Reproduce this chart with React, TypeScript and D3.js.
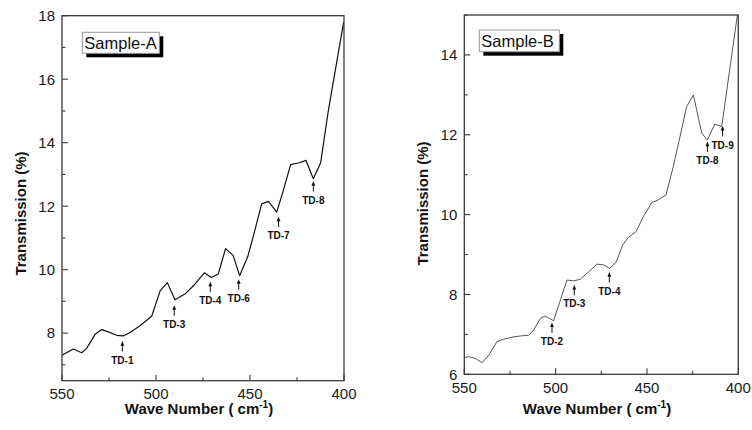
import React from "react";
import * as d3 from "d3";

// ---------- data ----------
const waveA = [550, 544, 539.5, 536.9, 532.4, 528.9, 525.4, 520.9, 517.4, 513.8, 508.5, 502.3, 497.8, 494, 489.9, 484.6, 479.3, 474.3, 470.6, 466.9, 463, 459, 455.5, 451.2, 447.8, 443.8, 440.2, 435.8, 432.3, 428.4, 424.3, 420.2, 416.3, 412.4, 408.3, 400.2];
const transA = [7.3, 7.5, 7.38, 7.52, 7.96, 8.11, 8.04, 7.93, 7.91, 8.02, 8.23, 8.53, 9.33, 9.59, 9.05, 9.23, 9.54, 9.9, 9.75, 9.86, 10.66, 10.45, 9.81, 10.41, 11.15, 12.07, 12.15, 11.81, 12.49, 13.31, 13.36, 13.44, 12.86, 13.37, 15.02, 17.8];

const waveB = [550, 547.6, 544, 540.3, 536.6, 532.1, 528.4, 523.9, 519.3, 514.7, 512, 508.4, 505.7, 503.5, 501.1, 497.4, 493.8, 490.1, 486.5, 481.9, 477.4, 473.7, 470.3, 466.8, 463.3, 460.2, 456, 452.2, 447.4, 443.8, 439.6, 435.6, 431.9, 428.3, 424.6, 420, 417, 412.8, 409.1, 400.5];
const transB = [6.42, 6.44, 6.4, 6.29, 6.48, 6.82, 6.88, 6.93, 6.96, 6.98, 7.11, 7.4, 7.46, 7.4, 7.34, 7.86, 8.36, 8.34, 8.38, 8.57, 8.76, 8.74, 8.65, 8.82, 9.24, 9.43, 9.57, 9.93, 10.3, 10.37, 10.49, 11.2, 11.95, 12.7, 13.0, 12.04, 11.87, 12.27, 12.2, 15.0];

const xTicks = [550, 500, 450, 400];
const xMinor = [525, 475, 425];
const yTicksA = [8, 10, 12, 14, 16, 18];
const yMinorA = [7, 9, 11, 13, 15, 17];
const yTicksB = [6, 8, 10, 12, 14];
const yMinorB = [7, 9, 11, 13, 15];

const notesALabels = ["TD-1", "TD-3", "TD-4", "TD-6", "TD-7", "TD-8"];
const notesAWave = [517.9, 490.3, 471.1, 456, 434.8, 416.3];
const notesATip = [7.75, 8.88, 9.62, 9.7, 11.67, 12.79];

const notesBLabels = ["TD-2", "TD-3", "TD-4", "TD-8", "TD-9"];
const notesBWave = [502, 489.8, 470.6, 416.9, 408.6];
const notesBTip = [7.3, 8.24, 8.56, 11.83, 12.22];

const FONT = "'Liberation Sans', Arial, Helvetica, sans-serif";

type PanelProps = {
  id: string;
  left: number; right: number; top: number; bottom: number;
  yDomain: [number, number];
  wave: number[]; trans: number[];
  yTicks: number[]; yMinor: number[];
  labels: string[]; noteWave: number[]; noteTip: number[];
  lineColor: string; lineWidth: number;
  sample: string; box: { x: number; y: number; w: number; h: number };
  yTitle: { x: number; y: number }; xTitle: { x: number; y: number };
  tickLabelGap: number;
};

function Panel(p: PanelProps) {
  const x = d3.scaleLinear().domain([550, 400]).range([p.left, p.right]);
  const y = d3.scaleLinear().domain(p.yDomain).range([p.bottom, p.top]);
  const pts = p.wave.map((w, i) => [w, p.trans[i]] as [number, number]);
  const line = d3.line<[number, number]>().x(d => x(d[0])).y(d => y(d[1]));
  return (
    <g>
      <defs>
        <clipPath id={`clip-${p.id}`}>
          <rect x={p.left} y={p.top} width={p.right - p.left} height={p.bottom - p.top} />
        </clipPath>
      </defs>
      <path d={line(pts) || ""} fill="none" stroke={p.lineColor} strokeWidth={p.lineWidth} strokeLinejoin="round" clipPath={`url(#clip-${p.id})`} />
      <rect x={p.left} y={p.top} width={p.right - p.left} height={p.bottom - p.top} fill="none" stroke="#3a3a3a" strokeWidth={1.3} />
      {xTicks.map(t => (
        <g key={`xt${t}`}>
          <line x1={x(t)} x2={x(t)} y1={p.bottom} y2={p.bottom - 6} stroke="#3a3a3a" strokeWidth={1.1} />
          <text x={x(t)} y={p.bottom + p.tickLabelGap} textAnchor="middle" fontSize={15} fontFamily={FONT} fill="#1a1a1a">{t}</text>
        </g>
      ))}
      {xMinor.map(t => (
        <line key={`xm${t}`} x1={x(t)} x2={x(t)} y1={p.bottom} y2={p.bottom - 3.5} stroke="#3a3a3a" strokeWidth={1.1} />
      ))}
      {p.yTicks.map(t => (
        <g key={`yt${t}`}>
          <line x1={p.left} x2={p.left + 6} y1={y(t)} y2={y(t)} stroke="#3a3a3a" strokeWidth={1.1} />
          <text x={p.left - 7} y={y(t)} dy="0.36em" textAnchor="end" fontSize={15} fontFamily={FONT} fill="#1a1a1a">{t}</text>
        </g>
      ))}
      {p.yMinor.map(t => (
        <line key={`ym${t}`} x1={p.left} x2={p.left + 3.5} y1={y(t)} y2={y(t)} stroke="#3a3a3a" strokeWidth={1.1} />
      ))}
      {p.labels.map((lab, i) => {
        const ax = x(p.noteWave[i]);
        const ty = y(p.noteTip[i]);
        return (
          <g key={`n${i}`}>
            <line x1={ax} x2={ax} y1={ty + 3} y2={ty + 10.5} stroke="#111" strokeWidth={1} />
            <polygon points={`${ax},${ty} ${ax - 1.9},${ty + 4.6} ${ax + 1.9},${ty + 4.6}`} fill="#111" />
            <text x={ax} y={ty + 22.6} textAnchor="middle" fontSize={10} fontWeight="bold" fontFamily={FONT} fill="#111">{lab}</text>
          </g>
        );
      })}
      <rect x={p.box.x + 4} y={p.box.y + 4} width={p.box.w} height={p.box.h} fill="#000" />
      <rect x={p.box.x} y={p.box.y} width={p.box.w} height={p.box.h} fill="#fff" stroke="#999" strokeWidth={1} />
      <text x={p.box.x + 2} y={p.box.y + 16.6} fontSize={16.5} fontFamily={FONT} fill="#111">{p.sample}</text>
      <text transform={`translate(${p.yTitle.x},${p.yTitle.y}) rotate(-90)`} textAnchor="middle" fontSize={15} fontWeight="bold" fontFamily={FONT} fill="#111">Transmission (%)</text>
      <text x={p.xTitle.x} y={p.xTitle.y} textAnchor="middle" fontSize={15} fontWeight="bold" fontFamily={FONT} fill="#111">
        Wave Number ( cm<tspan fontSize={10} dy={-6}>-1</tspan><tspan dy={6}>)</tspan>
      </text>
    </g>
  );
}

export default function App() {
  return (
    <svg width={752} height={430} viewBox="0 0 752 430" style={{ position: "absolute", left: 0, top: 0, background: "#fff" }}>
      <rect x={0} y={0} width={752} height={430} fill="#fff" />
      <Panel id="A" left={62} right={344} top={15.7} bottom={380.7} yDomain={[6.5, 18]}
        wave={waveA} trans={transA} yTicks={yTicksA} yMinor={yMinorA}
        labels={notesALabels} noteWave={notesAWave} noteTip={notesATip}
        lineColor="#111" lineWidth={1.2} sample="Sample-A" box={{ x: 82.3, y: 32.3, w: 77, h: 21 }}
        yTitle={{ x: 26, y: 213.5 }} xTitle={{ x: 199, y: 413.5 }} tickLabelGap={18.6} />
      <Panel id="B" left={464.3} right={738.3} top={15} bottom={374.3} yDomain={[6, 15]}
        wave={waveB} trans={transB} yTicks={yTicksB} yMinor={yMinorB}
        labels={notesBLabels} noteWave={notesBWave} noteTip={notesBTip}
        lineColor="#555" lineWidth={1} sample="Sample-B" box={{ x: 479.3, y: 30, w: 80, h: 21.7 }}
        yTitle={{ x: 428, y: 203.5 }} xTitle={{ x: 597, y: 413.5 }} tickLabelGap={18.4} />
    </svg>
  );
}
